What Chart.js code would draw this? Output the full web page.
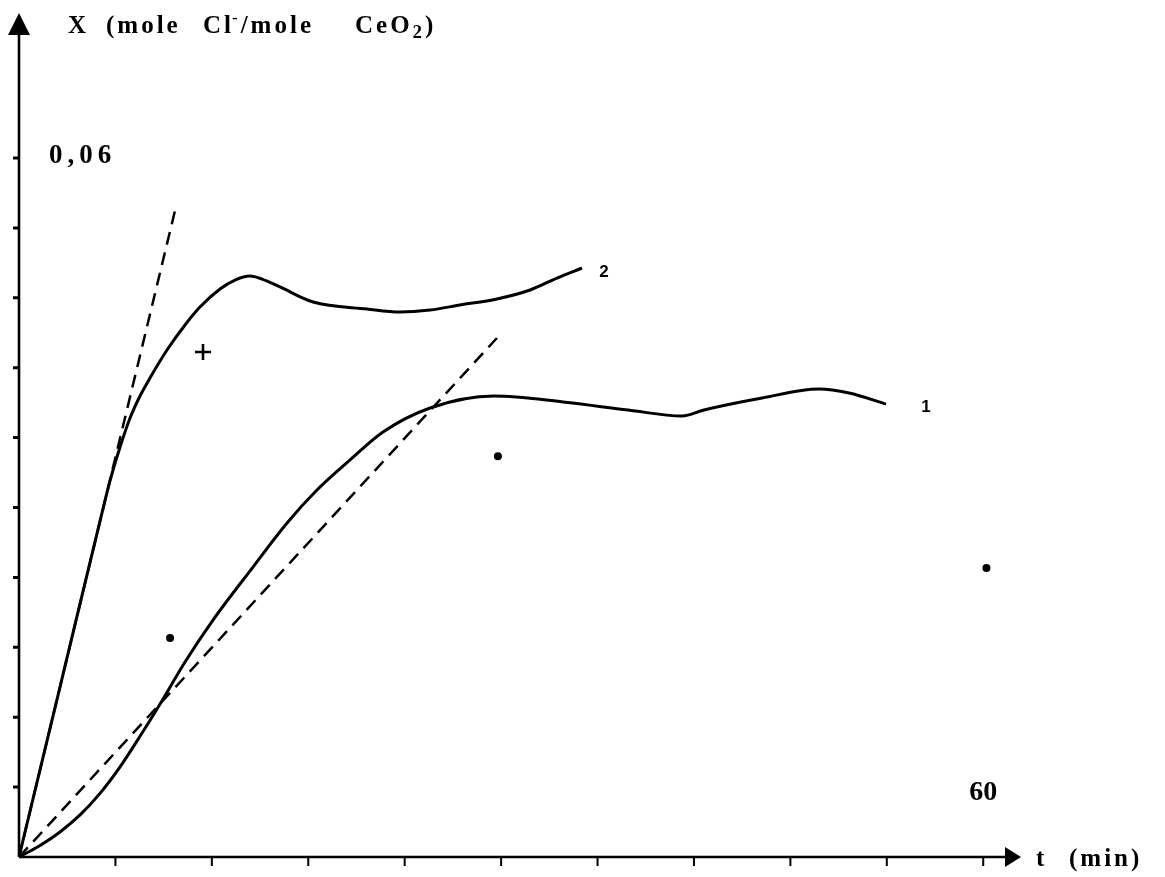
<!DOCTYPE html>
<html>
<head>
<meta charset="utf-8">
<style>
  html, body { margin: 0; padding: 0; background: #ffffff; }
  #wrap { position: relative; width: 1165px; height: 877px; }
</style>
<script src="https://cdn.jsdelivr.net/npm/chart.js@4.4.1/dist/chart.umd.min.js"></script>
</head>
<body>
<div id="wrap"><canvas id="c"></canvas></div>
<script>
// ---------------- data (t in min, X in mole Cl-/mole CeO2) ----------------
const curve1T = [0, 1.31, 2.55, 3.80, 5.04, 6.29, 7.53, 8.77, 10.33, 12.07, 14.56, 16.68, 18.54, 20.60, 22.65, 25.58, 29.56, 33.85, 37.90, 41.26, 42.62, 46.24, 49.78, 51.65, 53.95];
const curve1X = [0, 0.00099, 0.00215, 0.00361, 0.00546, 0.00774, 0.01037, 0.01312, 0.01674, 0.02034, 0.02489, 0.02867, 0.03150, 0.03408, 0.03648, 0.03854, 0.03957, 0.03906, 0.03837, 0.03785, 0.03837, 0.03940, 0.04017, 0.03983, 0.03888];

const curve2T = [0, 2.55, 5.04, 5.66, 6.29, 6.91, 7.53, 8.15, 9.21, 10.33, 11.26, 12.51, 13.44, 14.38, 15.12, 16.24, 18.30, 21.66, 23.71, 25.58, 27.44, 29.74, 31.80, 33.48, 35.03];
const curve2X = [0, 0.01459, 0.02884, 0.03227, 0.03519, 0.03768, 0.03957, 0.04112, 0.04352, 0.04567, 0.04721, 0.04876, 0.04953, 0.04987, 0.04961, 0.04893, 0.04764, 0.04704, 0.04678, 0.04695, 0.04738, 0.04790, 0.04867, 0.04970, 0.05056];

const tangent1T = [0, 29.74];
const tangent1X = [0, 0.04455];
const tangent2T = [0, 9.71];
const tangent2X = [0, 0.0555];

const dotT = [9.40, 29.80, 60.20];
const dotX = [0.0188, 0.0344, 0.0248];
const plusT = [11.45];
const plusX = [0.04335];

const xTicks = [0, 6, 12, 18, 24, 30, 36, 42, 48, 54, 60];
const yTicks = [0.006, 0.012, 0.018, 0.024, 0.030, 0.036, 0.042, 0.048, 0.054, 0.060];
const xTickLabelValue = 60;
const xTickLabelText = '60';
const yTickLabelValue = 0.06;
const yTickLabelText = '0,06';

const curveLabels = ['1', '2'];
const curveLabelT = [56.44, 36.40];
const curveLabelX = [0.0386, 0.0502];

const xAxisMax = 62.35;
const yAxisMax = 0.07245;

// ---------------- helpers ----------------
const pts = (ts, xs) => ts.map((t, i) => ({ x: t, y: xs[i] }));
const SERIF = '"Liberation Serif", "Times New Roman", serif';
const SANS = '"Liberation Sans", Arial, sans-serif';

const axesPlugin = {
  id: 'axesPlugin',
  beforeDatasetsDraw(chart) {
    const { ctx, scales: { x, y } } = chart;
    const ox = x.getPixelForValue(0);
    const oy = y.getPixelForValue(0);
    const xEnd = x.getPixelForValue(xAxisMax);
    const yEnd = y.getPixelForValue(yAxisMax);
    ctx.save();
    ctx.strokeStyle = '#000';
    ctx.fillStyle = '#000';
    ctx.lineCap = 'butt';
    // axis lines
    ctx.lineWidth = 2.6;
    ctx.beginPath();
    ctx.moveTo(ox, oy);
    ctx.lineTo(xEnd - 14, oy);
    ctx.moveTo(ox, oy);
    ctx.lineTo(ox, yEnd + 20);
    ctx.stroke();
    // arrow heads
    ctx.beginPath();
    ctx.moveTo(xEnd, oy);
    ctx.lineTo(xEnd - 16, oy - 10);
    ctx.lineTo(xEnd - 16, oy + 10);
    ctx.closePath();
    ctx.fill();
    ctx.beginPath();
    ctx.moveTo(ox, yEnd);
    ctx.lineTo(ox - 11, yEnd + 22);
    ctx.lineTo(ox + 11, yEnd + 22);
    ctx.closePath();
    ctx.fill();
    // ticks
    ctx.lineWidth = 2;
    ctx.beginPath();
    xTicks.forEach(v => {
      if (v === 0) return;
      const px = x.getPixelForValue(v);
      ctx.moveTo(px, oy);
      ctx.lineTo(px, oy + 9);
    });
    ctx.stroke();
    ctx.lineWidth = 3;
    ctx.beginPath();
    yTicks.forEach(v => {
      const py = y.getPixelForValue(v);
      ctx.moveTo(ox - 6, py);
      ctx.lineTo(ox, py);
    });
    ctx.stroke();
    ctx.restore();
  },
  afterDatasetsDraw(chart) {
    const { ctx, scales: { x, y } } = chart;
    const ox = x.getPixelForValue(0);
    const oy = y.getPixelForValue(0);
    ctx.save();
    ctx.fillStyle = '#000';
    ctx.textBaseline = 'alphabetic';
    ctx.textAlign = 'left';

    // y axis title: X (mole Cl-/mole CeO2)
    const tb = 33;
    ctx.font = 'bold 25px ' + SERIF;
    ctx.letterSpacing = '3px';
    let cx = ox + 49;
    ctx.fillText('X', cx, tb);
    cx = ox + 87;
    ctx.fillText('(mole', cx, tb);
    cx = ox + 184;
    ctx.fillText('Cl', cx, tb);
    cx += ctx.measureText('Cl').width;
    ctx.font = 'bold 17px ' + SERIF;
    ctx.fillText('-', cx - 2, tb - 10);
    cx += ctx.measureText('-').width - 2;
    ctx.font = 'bold 25px ' + SERIF;
    ctx.fillText('/mole', cx, tb);
    cx = ox + 336;
    ctx.fillText('CeO', cx, tb);
    cx += ctx.measureText('CeO').width;
    ctx.font = 'bold 19px ' + SERIF;
    ctx.fillText('2', cx, tb + 5);
    cx += ctx.measureText('2').width;
    ctx.font = 'bold 25px ' + SERIF;
    ctx.fillText(')', cx, tb);

    // y tick label 0,06
    ctx.font = 'bold 27px ' + SERIF;
    ctx.letterSpacing = '5px';
    ctx.fillText(yTickLabelText, ox + 30, y.getPixelForValue(yTickLabelValue) + 5);

    // x tick label 60
    ctx.letterSpacing = '0px';
    ctx.font = 'bold 28px ' + SERIF;
    ctx.textAlign = 'center';
    ctx.fillText(xTickLabelText, x.getPixelForValue(xTickLabelValue), oy - 57);

    // x axis title
    ctx.textAlign = 'left';
    ctx.letterSpacing = '3px';
    ctx.font = 'bold 25px ' + SERIF;
    const xt = x.getPixelForValue(xAxisMax);
    ctx.fillText('t', xt + 15, oy + 9);
    ctx.fillText('(min)', xt + 48, oy + 9);

    // curve labels
    ctx.letterSpacing = '0px';
    ctx.font = 'bold 17px ' + SANS;
    ctx.textAlign = 'center';
    ctx.textBaseline = 'middle';
    curveLabels.forEach((lab, i) => {
      ctx.fillText(lab, x.getPixelForValue(curveLabelT[i]), y.getPixelForValue(curveLabelX[i]));
    });
    ctx.restore();
  }
};

const lineBase = {
  showLine: true,
  pointRadius: 0,
  borderColor: '#000',
  backgroundColor: '#000',
  fill: false
};

new Chart(document.getElementById('c'), {
  type: 'scatter',
  data: {
    datasets: [
      Object.assign({}, lineBase, { label: 'curve 1', data: pts(curve1T, curve1X), borderWidth: 3, cubicInterpolationMode: 'monotone' }),
      Object.assign({}, lineBase, { label: 'curve 2', data: pts(curve2T, curve2X), borderWidth: 3, cubicInterpolationMode: 'monotone' }),
      Object.assign({}, lineBase, { label: 'tangent 1', data: pts(tangent1T, tangent1X), borderWidth: 2.5, borderDash: [13, 8] }),
      Object.assign({}, lineBase, { label: 'tangent 2', data: pts(tangent2T, tangent2X), borderWidth: 2.5, borderDash: [13, 8] }),
      { label: 'points', data: pts(dotT, dotX), showLine: false, pointStyle: 'circle', pointRadius: 4, backgroundColor: '#000', borderColor: '#000', borderWidth: 0 },
      { label: 'plus', data: pts(plusT, plusX), showLine: false, pointStyle: 'cross', pointRadius: 8, borderColor: '#000', borderWidth: 2.6 }
    ]
  },
  options: {
    responsive: true,
    maintainAspectRatio: false,
    animation: false,
    events: [],
    layout: { padding: { left: 19, right: 144, top: 13, bottom: 20 } },
    plugins: { legend: { display: false }, tooltip: { enabled: false }, title: { display: false } },
    scales: {
      x: { type: 'linear', min: 0, max: xAxisMax, display: false },
      y: { type: 'linear', min: 0, max: yAxisMax, display: false }
    }
  },
  plugins: [axesPlugin]
});
</script>
</body>
</html>
